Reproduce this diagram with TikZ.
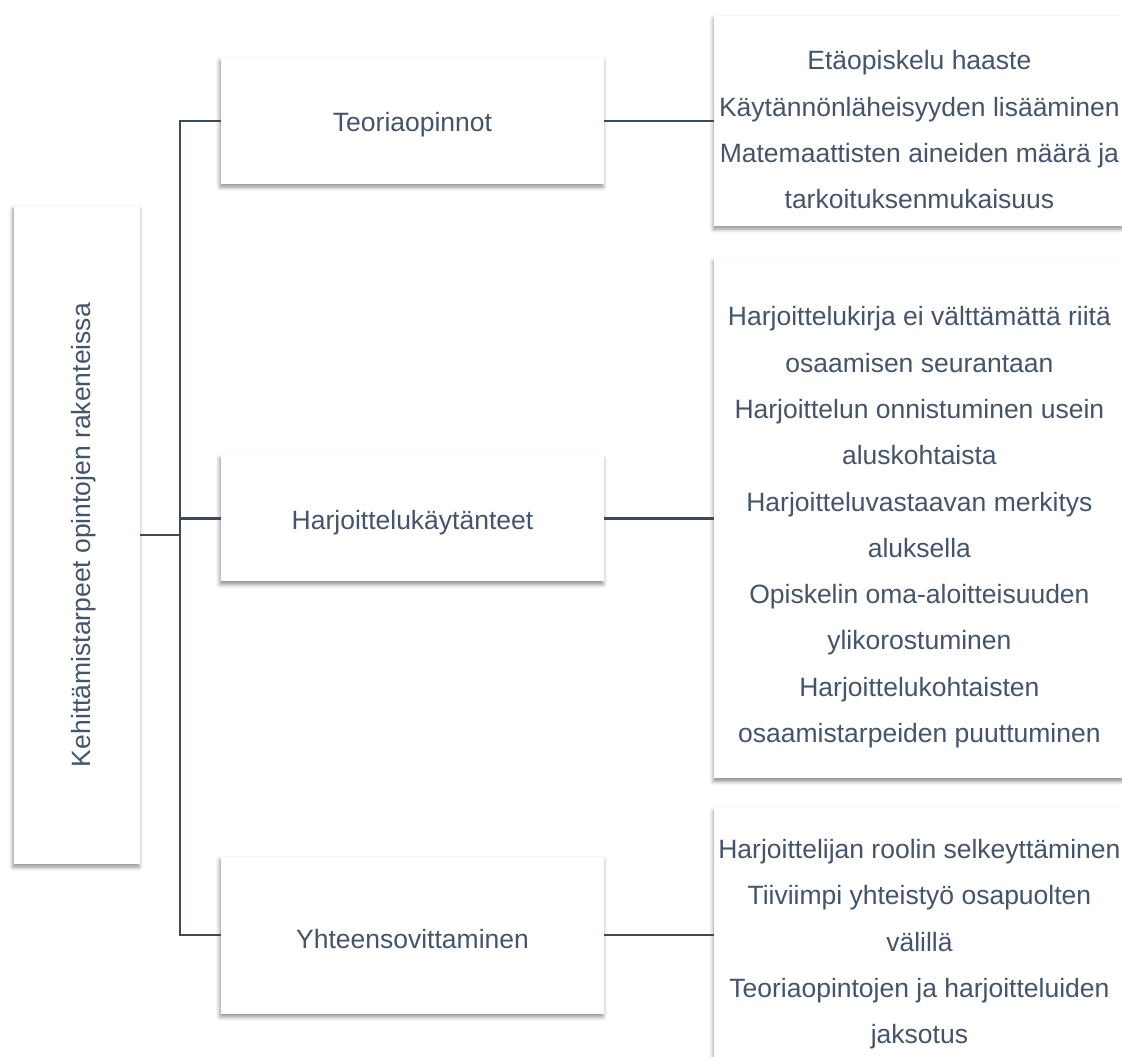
\documentclass[tikz,border=0pt]{standalone}
\usepackage{fontspec}
\setmainfont{Liberation Sans}
\usepackage{graphicx}
\usepackage{xcolor}
\usetikzlibrary{positioning,shadows.blur}
\definecolor{slate}{HTML}{44546A}
\definecolor{linecol}{HTML}{3B4A5C}
\newcommand{\lift}{\rule{0pt}{37pt}}

\begin{document}
\begin{tikzpicture}[x=1pt, y=1pt,
  box/.style={fill=white, inner sep=2pt, align=center, text=slate,
              font=\fontsize{26.5}{46.3}\selectfont,
              blur shadow={shadow xshift=-1pt, shadow yshift=-3pt,
                           shadow blur radius=4pt, shadow opacity=45}},
  mid/.style={box, minimum width=383pt, minimum height=126pt,
              execute at begin node={\rule{0pt}{27pt}}},
  leaf/.style={box, minimum width=410pt},
  conn/.style={draw=linecol, line width=2.2pt}]
\useasboundingbox (0,0) rectangle (1122,-1057);
\clip (0,0) rectangle (1122,-1057);
% root
\node[box, minimum width=126pt, minimum height=658pt] (root) at (77,-535)
  {\rotatebox{90}{\raisebox{-7pt}[\height][\depth]{Kehittämistarpeet opintojen rakenteissa}}};
% second level
\node[mid] (teo) at (412.5,-121) {Teoriaopinnot};
\node[mid, below=271pt of teo] (har) {Harjoittelukäytänteet};
\node[mid, minimum height=157pt, below=275pt of har] (yht) {Yhteensovittaminen};
% third level
\node[leaf, minimum height=210pt, right=110pt of teo] (teoL)
  {\lift Etäopiskelu haaste\\
   Käytännönläheisyyden lisääminen\\
   Matemaattisten aineiden määrä ja\\
   tarkoituksenmukaisuus};
\node[leaf, minimum height=520pt, right=110pt of har] (harL)
  {\lift Harjoittelukirja ei välttämättä riitä\\
   osaamisen seurantaan\\
   Harjoittelun onnistuminen usein\\
   aluskohtaista\\
   Harjoitteluvastaavan merkitys\\
   aluksella\\
   Opiskelin oma-aloitteisuuden\\
   ylikorostuminen\\
   Harjoittelukohtaisten\\
   osaamistarpeiden puuttuminen};
\node[leaf, minimum height=254pt, right=110pt of yht] (yhtL)
  {\lift Harjoittelijan roolin selkeyttäminen\\
   Tiiviimpi yhteistyö osapuolten\\
   välillä\\
   Teoriaopintojen ja harjoitteluiden\\
   jaksotus};
% connectors
\draw[conn] (root.east) -- ++(40,0) coordinate (tr);
\draw[conn] (teo.west) -| (tr) |- (yht.west);
\draw[conn] (tr |- har.west) -- (har.west);
\draw[conn] (teo.east) -- (teoL.west);
\draw[conn] (har.east) -- (harL.west);
\draw[conn] (yht.east) -- (yhtL.west);
\end{tikzpicture}
\end{document}
